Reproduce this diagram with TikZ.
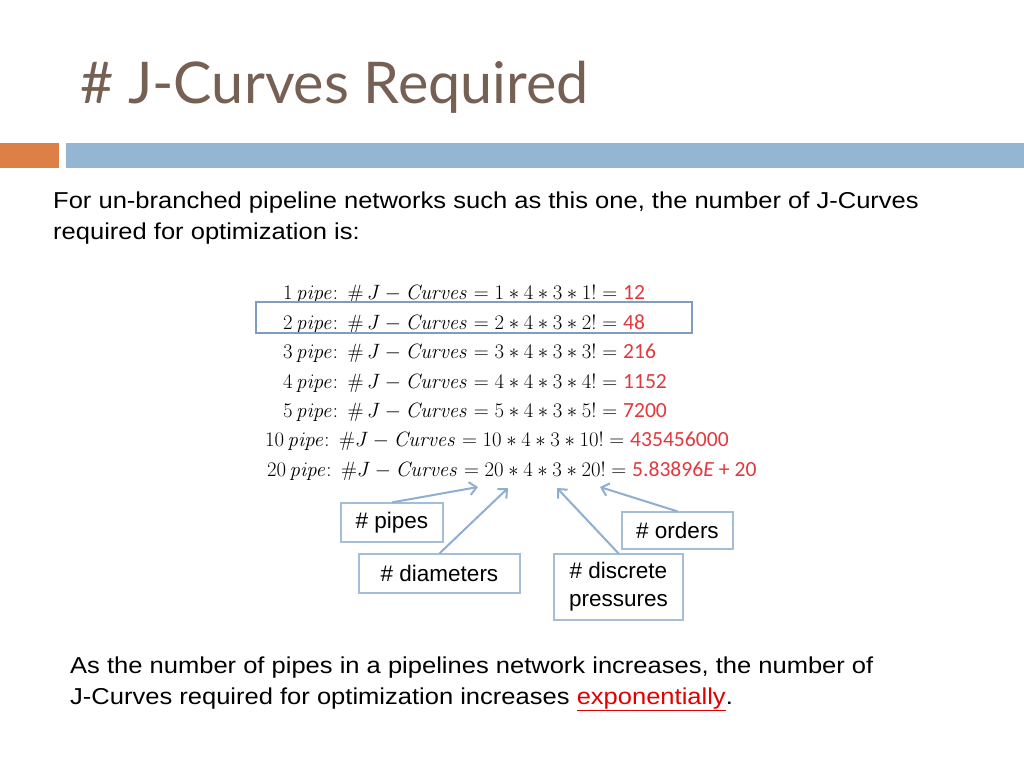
\documentclass[tikz,border=0pt]{standalone}
\usepackage[no-math]{fontspec}
\setmainfont{Liberation Sans}
\newfontfamily\titlefont{Lato}
\newfontfamily\widefont[FakeStretch=1.11]{Liberation Sans}
\newfontfamily\calfont{Carlito}
\usetikzlibrary{arrows.meta}
\definecolor{titlebrown}{HTML}{765F53}
\definecolor{barorange}{HTML}{DD8047}
\definecolor{barblue}{HTML}{94B6D2}
\definecolor{hlblue}{HTML}{7F9DBF}
\definecolor{boxblue}{HTML}{A5BED5}
\definecolor{arrowblue}{HTML}{8EAED2}
\definecolor{numred}{HTML}{E03A3E}
\definecolor{linkred}{HTML}{E00000}
\definecolor{eqgray}{HTML}{000000}
\newcommand{\rn}[1]{\textcolor{numred}{\calfont #1}}
\tikzset{
  bodytext/.style={anchor=base west, inner sep=0pt, font=\widefont\fontsize{23}{27}\selectfont},
  eqrow/.style={anchor=base west, inner sep=0pt, text=eqgray, font=\fontsize{21.6}{25}\selectfont},
  labelbox/.style={draw=boxblue, line width=1.2pt, inner sep=0pt, align=center, font=\fontsize{22.5}{28}\selectfont},
  callout/.style={draw=arrowblue, line width=2pt, -{Straight Barb[length=7pt,width=13pt,line width=2pt]}}
}
\begin{document}
\begin{tikzpicture}[x=1pt,y=-1pt]
\useasboundingbox (0,0) rectangle (1024,768);
\fill[white] (0,0) rectangle (1024,768);
% title and bars
\node[anchor=base west, inner sep=0pt, text=titlebrown, font=\titlefont\fontsize{57.5}{60}\selectfont] (title) at (80,103) {\# J-Curves Required};
\fill[barorange] (0,143) rectangle (59,168);
\fill[barblue] (66,143) rectangle (1024,168);
% intro text
\node[bodytext] (intro1) at (53,208) {For un-branched pipeline networks such as this one, the number of J-Curves};
\node[bodytext] (intro2) at (53,239) {required for optimization is:};
% equations
\node[eqrow] (r1) at (283,299) {$1\,\mathit{pipe}\colon\ \#\,J-\mathit{Curves}=1*4*3*1!={}$\rn{12}};
\node[eqrow] (r2) at (283,329) {$2\,\mathit{pipe}\colon\ \#\,J-\mathit{Curves}=2*4*3*2!={}$\rn{48}};
\node[eqrow] (r3) at (283,358) {$3\,\mathit{pipe}\colon\ \#\,J-\mathit{Curves}=3*4*3*3!={}$\rn{216}};
\node[eqrow] (r4) at (283,388) {$4\,\mathit{pipe}\colon\ \#\,J-\mathit{Curves}=4*4*3*4!={}$\rn{1152}};
\node[eqrow] (r5) at (283,417) {$5\,\mathit{pipe}\colon\ \#\,J-\mathit{Curves}=5*4*3*5!={}$\rn{7200}};
\node[eqrow] (r10) at (265,446) {$10\,\mathit{pipe}\colon\ \#J-\mathit{Curves}=10*4*3*10!={}$\rn{435456000}};
\node[eqrow] (r20) at (267,476) {$20\,\mathit{pipe}\colon\ \#J-\mathit{Curves}=20*4*3*20!={}$\rn{5.83896\textit{E} + 20}};
\draw[hlblue, line width=1.5pt] (256,302) rectangle (692,333);
% label boxes
\node[labelbox, minimum width=102pt, minimum height=39pt] (pipes) at (392,522.5) {\# pipes};
\node[labelbox, minimum width=161pt, minimum height=39pt] (diam) at (439.5,573.5) {\# diameters};
\node[labelbox, minimum width=129pt, minimum height=66pt] (press) at (618.5,587) {\# discrete\\pressures};
\node[labelbox, minimum width=111pt, minimum height=37pt] (orders) at (677.5,530.5) {\# orders};
% arrow tips
\coordinate (tpipes) at (478,487);
\coordinate (tdiam) at (508,488);
\coordinate (tpress) at (557,488);
\coordinate (torders) at (600,487);
\draw[callout] (pipes.north) -- (tpipes);
\draw[callout] (diam.north) -- (tdiam);
\draw[callout] (press.north) -- (tpress);
\draw[callout] (orders.north) -- (torders);
% conclusion
\node[bodytext] (concl1) at (70,673) {As the number of pipes in a pipelines network increases, the number of};
\node[bodytext] (concl2) at (70,704) {J-Curves required for optimization increases \textcolor{linkred}{\underline{exponentially}}.};
\end{tikzpicture}
\end{document}
